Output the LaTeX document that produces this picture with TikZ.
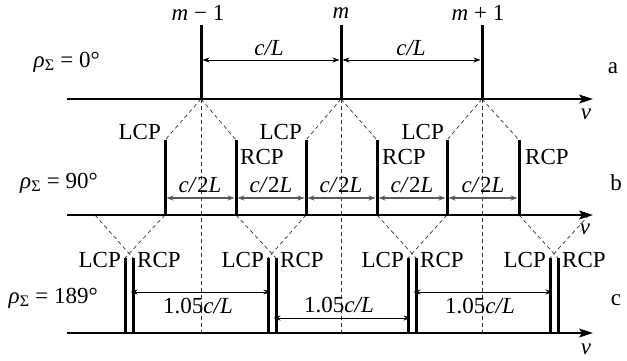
\documentclass[tikz,border=0pt]{standalone}
\usepackage{fontspec}
\setmainfont{Liberation Serif}
\usetikzlibrary{arrows.meta}
\begin{document}
\begin{tikzpicture}[x=1pt,y=-1pt,
 axisline/.style={line width=1.4pt,-{Stealth[length=14pt,width=9pt,inset=3pt]}},
 spike/.style={line width=3pt},
 guide/.style={dash pattern=on 4pt off 3pt,line width=0.7pt,black!80},
 dimarrow/.style={line width=0.8pt,{Stealth[length=7pt,width=5pt]}-{Stealth[length=7pt,width=5pt]},shorten >=1.5pt,shorten <=1.5pt},
 dimgray/.style={dimarrow,black!65,line width=1.1pt},
 lbl/.style={inner sep=0pt,font=\fontsize{23}{26}\selectfont},
]
\useasboundingbox (0,0) rectangle (627,360);

% ---------- coordinates ----------
\coordinate (a0) at (67,99);  \coordinate (a1) at (593,99);
\coordinate (b0) at (67,215); \coordinate (b1) at (593,215);
\coordinate (c0) at (67,333); \coordinate (c1) at (593,333);
\foreach \x [count=\i] in {201,341,482}{
  \coordinate (pa\i) at (\x,99);
  \coordinate (ta\i) at (\x,25);
  \coordinate (va\i) at (\x,333);
}
\coordinate (pb0) at (95,215);
\coordinate (pb7) at (589,215);
\foreach \x [count=\i] in {165,236,306,377,447,519}{
  \coordinate (pb\i) at (\x,215);
  \coordinate (tb\i) at (\x,140);
}
\foreach \x [count=\i] in {125,268,408,550}{
  \coordinate (lc\i) at (\x,333);
  \coordinate (tlc\i) at (\x,258);
}
\foreach \x [count=\i] in {133,276,416,558}{
  \coordinate (rc\i) at (\x,333);
  \coordinate (trc\i) at (\x,258);
}

% ---------- dashed guides ----------
\foreach \i in {1,2,3}{\draw[guide] (pa\i) -- (va\i);}
\draw[guide] (pa1) -- (tb1); \draw[guide] (pa1) -- (tb2);
\draw[guide] (pa2) -- (tb3); \draw[guide] (pa2) -- (tb4);
\draw[guide] (pa3) -- (tb5); \draw[guide] (pa3) -- (tb6);
\draw[guide] (pb0) -- (trc1); \draw[guide] (pb1) -- (tlc1);
\draw[guide] (pb2) -- (trc2); \draw[guide] (pb3) -- (tlc2);
\draw[guide] (pb4) -- (trc3); \draw[guide] (pb5) -- (tlc3);
\draw[guide] (pb6) -- (trc4); \draw[guide] (pb7) -- (tlc4);

% ---------- axes ----------
\draw[axisline] (a0) -- (a1);
\draw[axisline] (b0) -- (b1);
\draw[axisline] (c0) -- (c1);

% ---------- spikes ----------
\foreach \i in {1,2,3}{\draw[spike] (pa\i) -- (ta\i);}
\foreach \i in {1,...,6}{\draw[spike] (pb\i) -- (tb\i);}
\foreach \i in {1,...,4}{\draw[spike] (lc\i) -- (tlc\i); \draw[spike] (rc\i) -- (trc\i);}

% ---------- row a ----------
\node[lbl] (ma1) at (198,13) {\textit{m} − 1};
\node[lbl] (ma2) at (341,13) {\textit{m}};
\node[lbl] (ma3) at (478,13) {\textit{m} + 1};
\coordinate (da1) at (201,60); \coordinate (da2) at (341,60); \coordinate (da3) at (482,60);
\draw[dimarrow] (da1) -- (da2);
\draw[dimarrow] (da2) -- (da3);
\node[lbl] (cla1) at (269,48) {\textit{c/L}};
\node[lbl] (cla2) at (411,48) {\textit{c/L}};
\node[lbl,anchor=east] (rhoa) at (100,62) {\textit{ρ}\textsubscript{Σ} = 0°};
\node[lbl] (la) at (613,68) {a};
\node[lbl] (nua) at (586,114) {\textit{ν}};

% ---------- row b ----------
\foreach \x [count=\i] in {165,236,306,377,447,519}{\coordinate (db\i) at (\x,198);}
\foreach \i/\j in {1/2,2/3,3/4,4/5,5/6}{\draw[dimgray] (db\i) -- (db\j);}
\foreach \x [count=\i] in {200,271,341,412,483}{\node[lbl] (clb\i) at (\x,185) {\textit{c/}2\textit{L}};}
\node[lbl,anchor=base east] (lcpb1) at (161,139) {LCP};
\node[lbl,anchor=base east] (lcpb2) at (302,139) {LCP};
\node[lbl,anchor=base east] (lcpb3) at (444,139) {LCP};
\node[lbl,anchor=base west] (rcpb1) at (240,164) {RCP};
\node[lbl,anchor=base west] (rcpb2) at (382,164) {RCP};
\node[lbl,anchor=base west] (rcpb3) at (525,164) {RCP};
\node[lbl,anchor=east] (rhob) at (98,183) {\textit{ρ}\textsubscript{Σ} = 90°};
\node[lbl] (lb) at (616,183) {b};
\node[lbl] (nub) at (585,229) {\textit{ν}};

% ---------- row c ----------
\coordinate (dc1) at (129,292); \coordinate (dc2) at (272,292);
\coordinate (dc3) at (272,318); \coordinate (dc4) at (412,318);
\coordinate (dc5) at (412,292); \coordinate (dc6) at (554,292);
\draw[dimarrow] (dc1) -- (dc2);
\draw[dimarrow] (dc3) -- (dc4);
\draw[dimarrow] (dc5) -- (dc6);
\node[lbl] (clc1) at (198,306) {1.05\textit{c/L}};
\node[lbl] (clc2) at (339,305) {1.05\textit{c/L}};
\node[lbl] (clc3) at (480,306) {1.05\textit{c/L}};
\foreach \i/\x in {1/121,2/264,3/404,4/546}{\node[lbl,anchor=base east] (lcpc\i) at (\x,267) {LCP};}
\foreach \i/\x in {1/137,2/280,3/420,4/562}{\node[lbl,anchor=base west] (rcpc\i) at (\x,267) {RCP};}
\node[lbl,anchor=east] (rhoc) at (98,298) {\textit{ρ}\textsubscript{Σ} = 189°};
\node[lbl] (lc) at (616,300) {c};
\node[lbl] (nuc) at (586,349) {\textit{ν}};
\end{tikzpicture}
\end{document}
